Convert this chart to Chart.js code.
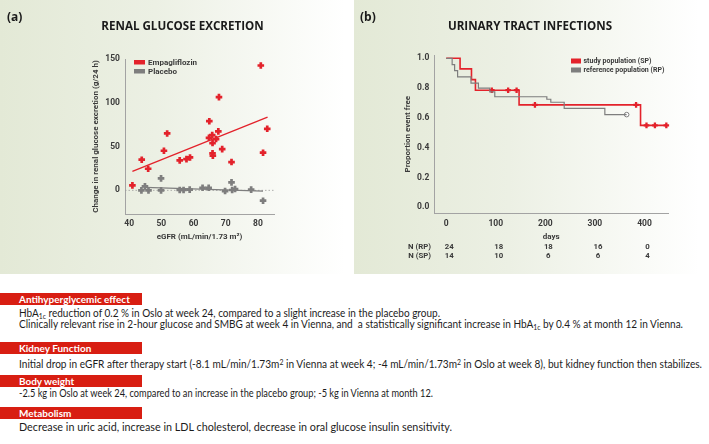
<!DOCTYPE html>
<html><head><meta charset="utf-8">
<script src="https://cdn.jsdelivr.net/npm/chart.js@4.4.0/dist/chart.umd.min.js"></script>
<style>
body{margin:0;width:709px;height:444px;position:relative;background:#fff;overflow:hidden}
.panel{position:absolute;top:0;height:274px;background:linear-gradient(to right,#e3e9d6 0%,#ecf0e4 45%,#ffffff 100%)}
.panel canvas{position:absolute;left:0;top:0}
.ttl{position:absolute;font-family:'Open Sans',sans-serif;font-weight:700;color:#1a1a1a;white-space:nowrap;line-height:16px;height:16px}
.hdr{position:absolute;left:0;width:142px;height:12px;background:#d81e12;color:#fff;font-family:'Lato',sans-serif;font-weight:700;line-height:12px;padding-left:19px;box-sizing:border-box;white-space:nowrap}
.txt{position:absolute;left:19px;color:#1c1c1c;font-family:'Lato',sans-serif;white-space:nowrap;line-height:12px;height:12px;transform-origin:0 50%;display:inline-block}
.txt sub{font-size:0.68em;line-height:0;vertical-align:-0.25em}
.txt sup{font-size:0.68em;line-height:0;vertical-align:0.45em}
</style></head>
<body>
<div class="panel" style="left:0;width:345px"><canvas id="ca" width="345" height="274"></canvas></div>
<div class="panel" style="left:354px;width:345px"><canvas id="cb" width="345" height="274"></canvas></div>

<div class="ttl" style="left:7px;top:9px;font-size:12px">(a)</div>
<div class="ttl" style="left:0;width:365px;text-align:center;top:18px;font-size:11.6px">RENAL GLUCOSE EXCRETION</div>
<div class="ttl" style="left:360px;top:9px;font-size:12px">(b)</div>
<div class="ttl" style="left:354px;width:352px;text-align:center;top:18px;font-size:11.6px">URINARY TRACT INFECTIONS</div>

<div class="hdr" style="top:293px">Antihyperglycemic effect</div>
<div class="txt" data-w="421" style="top:307px">HbA<sub>1c</sub> reduction of 0.2 % in Oslo at week 24, compared to a slight increase in the placebo group.</div>
<div class="txt" data-w="664" style="top:318px">Clinically relevant rise in 2-hour glucose and SMBG at week 4 in Vienna, and&nbsp; a statistically significant increase in HbA<sub>1c</sub> by 0.4 % at month 12 in Vienna.</div>
<div class="hdr" style="top:342px">Kidney Function</div>
<div class="txt" data-w="683" style="top:358px">Initial drop in eGFR after therapy start (-8.1 mL/min/1.73m<sup>2</sup> in Vienna at week 4; -4 mL/min/1.73m<sup>2</sup> in Oslo at week 8), but kidney function then stabilizes.</div>
<div class="hdr" style="top:375px">Body weight</div>
<div class="txt" data-w="414" style="top:387px">-2.5 kg in Oslo at week 24, compared to an increase in the placebo group; -5 kg in Vienna at month 12.</div>
<div class="hdr" style="top:407px">Metabolism</div>
<div class="txt" id="refline" data-w="433" style="top:421px">Decrease in uric acid, increase in LDL cholesterol, decrease in oral glucose insulin sensitivity.</div>

<script>
// ---------- Data: panel (a) renal glucose excretion ----------
const empaEGFR = [41.0,43.9,45.9,50.8,51.8,55.7,57.8,58.9,64.9,64.8,65.8,65.9,65.9,66.0,67.0,67.7,67.9,68.9,71.8,80.9,81.6,82.9];
const empaUGE  = [5.7,35,24.7,45.2,65,34.2,35.7,37.6,79,60,63.1,54,42.2,39.5,58.6,67.3,106.5,47.1,32.3,142.6,43,70.3];
const placeboEGFR = [43.8,44.9,46.0,49.9,49.9,55.7,56.9,58.8,62.8,64.7,69.8,71.8,72.0,72.9,77.9,81.6];
const placeboUGE  = [0,4.6,0,13.7,0,0.4,0.4,0.8,3,3,-0.8,9.1,0.4,1.5,0.8,-11.8];
const empaFitX = [41,83],  empaFitY = [21.7,83.7];
const placeboFitX = [44.9,81.6], placeboFitY = [3.4,-0.8];
const aXTicks = [40,50,60,70,80];
const aYTicks = [0,50,100,150];

// ---------- Data: panel (b) urinary tract infections ----------
const spDays = [0,28,51,59,147,392,446];
const spSurv = [1.0,0.929,0.857,0.786,0.6875,0.55,0.55];
const spCensorDays = [92,125,142,179,383,404,421,444];
const spCensorSurv = [0.786,0.786,0.786,0.6875,0.6875,0.55,0.55,0.55];
const rpDays = [0,12,17,23,50,65,88,98,203,211,238,320,364];
const rpSurv = [1.0,0.958,0.917,0.875,0.833,0.80,0.775,0.742,0.725,0.705,0.664,0.622,0.622];
const rpCensorDays = [364];
const rpCensorSurv = [0.622];
const bXTicks = [0,100,200,300,400];
const bYTicks = [0,0.2,0.4,0.6,0.8,1.0];
const atRiskDays = [0,100,200,300,400];
const nRP = [24,18,18,16,0];
const nSP = [14,10,6,6,4];

// ---------- text fitting for the bottom notes ----------
(function(){
  const c = document.createElement('canvas').getContext('2d');
  c.font = '20px Lato';
  const w = c.measureText(document.getElementById('refline').textContent).width;
  const fs = 20*433/w;
  document.querySelectorAll('.txt').forEach(e=>{
    e.style.fontSize = fs+'px';
    const aw = e.getBoundingClientRect().width;
    const tw = parseFloat(e.dataset.w);
    if (aw > 0) e.style.transform = 'scaleX(' + (tw/aw) + ')';
  });
  c.font = 'bold 20px Lato';
  const wh = c.measureText('Antihyperglycemic effect').width;
  const fh = 20*111/wh;
  document.querySelectorAll('.hdr').forEach(e=>e.style.fontSize = fh+'px');
})();

const RED = '#e3222b', GRAY = '#7e7e7e', AXIS = '#a3a3a3', TXT = '#3a3a3a';
const FAM = 'Roboto';
const tickFont = {family:FAM, size:8.5, weight:'bold'};
const titleFont = {family:FAM, size:8, weight:'bold'};
const pts = (xs,ys)=>xs.map((x,i)=>({x, y:ys[i]}));
const setTicks = arr => s => { s.ticks = arr.map(v=>({value:v})); };

// ---------- Panel (a) ----------
const zeroLine = {
  id:'zeroLine',
  beforeDatasetsDraw(chart){
    const {ctx, chartArea:a, scales:{y}} = chart;
    const py = y.getPixelForValue(0);
    ctx.save(); ctx.strokeStyle='#9a9a9a'; ctx.lineWidth=0.8; ctx.setLineDash([1.5,2]);
    ctx.beginPath(); ctx.moveTo(a.left, py); ctx.lineTo(a.right, py); ctx.stroke(); ctx.restore();
  }
};
const legendA = {
  id:'legendA',
  afterDraw(chart){
    const ctx = chart.ctx;
    ctx.save();
    ctx.font = 'bold 8px Roboto'; ctx.textBaseline='middle';
    ctx.fillStyle = RED; ctx.fillRect(134,60,11,4.5);
    ctx.fillStyle = GRAY; ctx.fillRect(134,69,11,4.5);
    ctx.fillStyle = TXT;
    ctx.fillText('Empagliflozin',148,62.5);
    ctx.fillText('Placebo',148,71.5);
    ctx.restore();
  }
};
new Chart(document.getElementById('ca'), {
  type:'scatter',
  data:{datasets:[
    {label:'Empagliflozin', data:pts(empaEGFR,empaUGE), pointStyle:'cross', pointRadius:3.3, borderWidth:2.7, borderColor:RED, backgroundColor:RED, clip:false},
    {label:'Placebo', data:pts(placeboEGFR,placeboUGE), pointStyle:'cross', pointRadius:3.3, borderWidth:2.7, borderColor:GRAY, backgroundColor:GRAY, clip:false},
    {type:'line', label:'Empagliflozin fit', data:pts(empaFitX,empaFitY), borderColor:RED, borderWidth:1.3, pointRadius:0, fill:false},
    {type:'line', label:'Placebo fit', data:pts(placeboFitX,placeboFitY), borderColor:GRAY, borderWidth:1.3, pointRadius:0, fill:false}
  ]},
  options:{
    responsive:false, animation:false, events:[],
    layout:{padding:{left:87, top:59, right:71, bottom:28}},
    plugins:{legend:{display:false}, tooltip:{enabled:false}},
    scales:{
      x:{type:'linear', min:38.7, max:85, afterBuildTicks:setTicks(aXTicks), afterFit:s=>{s.height=32;},
         grid:{display:false, drawTicks:false}, border:{color:AXIS, width:1},
         ticks:{padding:5, font:tickFont, color:TXT, maxRotation:0},
         title:{display:true, text:'eGFR (mL/min/1.73 m²)', font:titleFont, color:TXT, padding:{top:2,bottom:4}}},
      y:{type:'linear', min:-27, max:150, afterBuildTicks:setTicks(aYTicks), afterFit:s=>{s.width=38;},
         grid:{display:false, drawTicks:false}, border:{color:AXIS, width:1},
         ticks:{padding:5, font:tickFont, color:TXT},
         title:{display:true, text:'Change in renal glucose excretion (g/24 h)', font:titleFont, color:TXT, padding:{top:4,bottom:4}}}
    }
  },
  plugins:[zeroLine, legendA]
});

// ---------- Panel (b) ----------
const legendB = {
  id:'legendB',
  afterDraw(chart){
    const ctx = chart.ctx, x = chart.scales.x;
    ctx.save();
    ctx.font = 'bold 7px Roboto'; ctx.textBaseline='middle';
    ctx.fillStyle = RED; ctx.fillRect(217,58.5,10,5);
    ctx.fillStyle = GRAY; ctx.fillRect(217,67.5,10,5);
    ctx.fillStyle = TXT;
    ctx.fillText('study population (SP)',229.5,61);
    ctx.fillText('reference population (RP)',229.5,70);
    // numbers at risk
    ctx.font = 'bold 7.8px Roboto';
    ctx.textAlign = 'right';
    ctx.fillText('N (RP)',77,247);
    ctx.fillText('N (SP)',77,256.5);
    ctx.textAlign = 'center';
    atRiskDays.forEach((d,i)=>{
      const px = x.getPixelForValue(d)+3;
      ctx.fillText(String(nRP[i]),px,247);
      ctx.fillText(String(nSP[i]),px,256.5);
    });
    ctx.restore();
  }
};
new Chart(document.getElementById('cb'), {
  type:'scatter',
  data:{datasets:[
    {type:'line', label:'reference population (RP)', data:pts(rpDays,rpSurv), stepped:true, borderColor:GRAY, borderWidth:1.2, pointRadius:0, fill:false},
    {type:'line', label:'study population (SP)', data:pts(spDays,spSurv), stepped:true, borderColor:RED, borderWidth:1.6, pointRadius:0, fill:false},
    {label:'RP censored', data:pts(rpCensorDays,rpCensorSurv), pointStyle:'circle', pointRadius:2.3, borderWidth:1, borderColor:GRAY, backgroundColor:'#ffffff', clip:false},
    {label:'SP censored', data:pts(spCensorDays,spCensorSurv), pointStyle:'cross', pointRadius:2.8, borderWidth:2.3, borderColor:RED, backgroundColor:RED, clip:false}
  ]},
  options:{
    responsive:false, animation:false, events:[],
    layout:{padding:{left:45, top:55, right:30.7, bottom:28.5}},
    plugins:{legend:{display:false}, tooltip:{enabled:false}},
    scales:{
      x:{type:'linear', min:-24, max:448, afterBuildTicks:setTicks(bXTicks), afterFit:s=>{s.height=32.2;},
         grid:{display:false, drawTicks:false}, border:{color:AXIS, width:1},
         ticks:{padding:5, font:tickFont, color:TXT, maxRotation:0},
         title:{display:true, text:'days', font:titleFont, color:TXT, padding:{top:2,bottom:4}}},
      y:{type:'linear', min:-0.04, max:1.022, afterBuildTicks:setTicks(bYTicks), afterFit:s=>{s.width=35.3;},
         grid:{display:false, drawTicks:false}, border:{color:AXIS, width:1},
         ticks:{padding:5, font:tickFont, color:TXT, callback:v=>Number(v).toFixed(1)},
         title:{display:true, text:'Proportion event free', font:titleFont, color:TXT, padding:{top:4,bottom:4}}}
    }
  },
  plugins:[legendB]
});
</script>
</body></html>
